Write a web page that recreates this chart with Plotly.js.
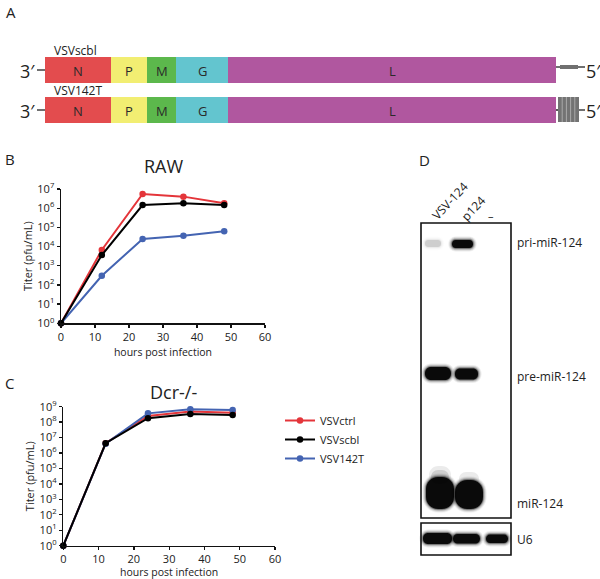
<!DOCTYPE html>
<html>
<head>
<meta charset="utf-8">
<script src="https://cdn.plot.ly/plotly-3.0.1.min.js"></script>
<style>html,body{margin:0;padding:0;background:#fff;}#chart{width:600px;height:579px;}</style>
</head>
<body>
<div id="chart"></div>
<script>
// ---------------- DATA ----------------
const hours = [0, 12, 24, 36, 48];
const seriesNames = ['VSVctrl', 'VSVscbl', 'VSV142T'];
// Panel B: RAW cells (pfu/mL)
const rawCtrl = [1, 6600, 5.5e6, 4.0e6, 1.8e6];
const rawScbl = [1, 3600, 1.45e6, 1.8e6, 1.45e6];
const raw142T = [1, 300, 2.5e4, 3.7e4, 6.2e4];
// Panel C: Dcr-/- cells (pfu/mL)
const dcrCtrl = [1, 4.3e6, 2.5e8, 4.8e8, 4.0e8];
const dcrScbl = [1, 4.3e6, 1.8e8, 3.4e8, 2.9e8];
const dcr142T = [1, 4.0e6, 3.7e8, 6.8e8, 6.1e8];
// Tick labels
const xTicks = [0, 10, 20, 30, 40, 50, 60];
const rawDecades = [0, 1, 2, 3, 4, 5, 6, 7];
const dcrDecades = [0, 1, 2, 3, 4, 5, 6, 7, 8, 9];
// Panel A: genome constructs
const constructs = ['VSVscbl', 'VSV142T'];
const genes = ['N', 'P', 'M', 'G', 'L'];
// Panel D: northern blot
const lanes = ['VSV-124', 'p124', '–'];
const bandLabels = ['pri-miR-124', 'pre-miR-124', 'miR-124', 'U6'];

// ---------------- STYLE / LAYOUT HELPERS ----------------
const W = 600, H = 579;
const X = p => p / W;
const Y = p => 1 - p / H;
const FONT = 'Open Sans, sans-serif';
const TXT = '#222';
const colors = ['#e4353a', '#000000', '#4464b2'];
const geneColors = ['#e34c4e', '#f2ee72', '#5cb84c', '#63c5cf', '#b0579f'];

const shapes = [];
const annotations = [];

function rectPx(x0, y0, x1, y1, fill, line) {
  shapes.push({type: 'rect', xref: 'paper', yref: 'paper', x0: X(x0), x1: X(x1), y0: Y(y1), y1: Y(y0),
    fillcolor: fill, line: line || {width: 0}, layer: 'above'});
}
function linePx(x0, y0, x1, y1, color, width) {
  shapes.push({type: 'line', xref: 'paper', yref: 'paper', x0: X(x0), x1: X(x1), y0: Y(y0), y1: Y(y1),
    line: {color: color, width: width}, layer: 'above'});
}
function pillPx(x0, y0, x1, y1, r, fill) {
  r = Math.min(r, (x1 - x0) / 2, (y1 - y0) / 2);
  const p = (x, y) => X(x).toFixed(5) + ',' + Y(y).toFixed(5);
  const k = 0.5523 * r;
  const path = 'M' + p(x0 + r, y0) + ' L' + p(x1 - r, y0) +
    ' C' + p(x1 - r + k, y0) + ' ' + p(x1, y0 + r - k) + ' ' + p(x1, y0 + r) +
    ' L' + p(x1, y1 - r) +
    ' C' + p(x1, y1 - r + k) + ' ' + p(x1 - r + k, y1) + ' ' + p(x1 - r, y1) +
    ' L' + p(x0 + r, y1) +
    ' C' + p(x0 + r - k, y1) + ' ' + p(x0, y1 - r + k) + ' ' + p(x0, y1 - r) +
    ' L' + p(x0, y0 + r) +
    ' C' + p(x0, y0 + r - k) + ' ' + p(x0 + r - k, y0) + ' ' + p(x0 + r, y0) + ' Z';
  shapes.push({type: 'path', xref: 'paper', yref: 'paper', path: path, fillcolor: fill, line: {width: 0}, layer: 'above'});
}
function band(x0, y0, x1, y1, r, strength) {
  // soft edges: layered translucent pills
  const steps = [[3.5, 0.07], [2.5, 0.12], [1.5, 0.2], [0.7, 0.35], [0, 0.9]];
  steps.forEach(s => pillPx(x0 - s[0], y0 - s[0], x1 + s[0], y1 + s[0], r + s[0],
    'rgba(0,0,0,' + (s[1] * strength).toFixed(3) + ')'));
}
function text(x, y, t, size, opts) {
  annotations.push(Object.assign({xref: 'paper', yref: 'paper', x: X(x), y: Y(y), text: t, showarrow: false,
    xanchor: 'center', yanchor: 'middle', font: {family: FONT, size: size, color: TXT}}, opts || {}));
}

// ---------------- PANEL LABELS ----------------
text(4, 12, 'A', 15, {xanchor: 'left'});
text(3, 159, 'B', 15, {xanchor: 'left'});
text(3, 383, 'C', 15, {xanchor: 'left'});
text(417, 160, 'D', 15, {xanchor: 'left'});

// ---------------- PANEL A ----------------
const segEdges = [45, 111, 147, 176, 228, 556];
const rows = [[57, 83], [97, 123]];
const labelY = [51, 91];
rows.forEach((r, i) => {
  const cy = (r[0] + r[1]) / 2;
  genes.forEach((g, k) => {
    rectPx(segEdges[k], r[0], segEdges[k + 1], r[1], geneColors[k]);
    text((segEdges[k] + segEdges[k + 1]) / 2, cy + 1, g, 13, {font: {family: FONT, size: 13, color: '#2a2a2a'}});
  });
  text(37, cy + 1, '3′', 18, {xanchor: 'right'});
  linePx(37, cy, 45, cy, '#222', 1.3);
  text(584, cy + 1, '5′', 18, {xanchor: 'left'});
  text(52, labelY[i], constructs[i], 12, {xanchor: 'left'});
});
// row 1 : short scrambled target
linePx(556, 67, 560, 67, '#222', 1.3);
rectPx(560, 65, 578, 69, '#707070');
linePx(578, 67, 585, 67, '#222', 1.3);
// row 2 : 4 target repeats
linePx(556, 110, 558, 110, '#222', 1.3);
rectPx(558, 97, 579, 122, '#737373');
[562.2, 566.4, 570.6, 574.8].forEach(sx => linePx(sx, 97, sx, 122, '#b8b8b8', 0.8));
linePx(579, 110, 585, 110, '#222', 1.3);

// ---------------- PANEL B / C titles ----------------
text(163, 166, 'RAW', 18);
text(173, 392, 'Dcr-/-', 18);

// ---------------- PANEL D (blot) ----------------
rectPx(421, 223, 511, 518, 'rgba(0,0,0,0)', {color: '#111', width: 1.6});
rectPx(421, 523, 511, 555, 'rgba(0,0,0,0)', {color: '#111', width: 1.6});
// pri-miR-124
band(425, 240, 441, 247, 3, 0.12);
band(452, 240, 473, 248, 3.5, 1);
// pre-miR-124
band(425, 367, 451, 380, 6, 1);
band(455, 368.5, 478, 379.5, 5, 1);
// miR-124 (with smear above)
pillPx(429, 466, 451, 484, 9, 'rgba(0,0,0,0.08)');
pillPx(431, 470, 449, 484, 8, 'rgba(0,0,0,0.12)');
pillPx(459, 472, 479, 486, 8, 'rgba(0,0,0,0.08)');
band(426, 477, 454, 509, 12, 1);
band(455, 480, 483, 509, 12, 1);
// U6
band(423, 533, 452, 544, 5, 1);
band(453, 534, 480, 543.5, 4.5, 1);
band(486, 534.5, 508, 543, 4, 1);
// lane labels
text(449, 201, lanes[0], 12, {textangle: -47});
text(473, 208, lanes[1], 12, {textangle: -47});
text(491, 215, lanes[2], 11);
// band labels
const bandY = [243, 376, 503, 539];
bandLabels.forEach((b, i) => text(515, bandY[i], b, 12, {xanchor: 'left'}));

// ---------------- TRACES ----------------
function trace(name, y, i, xa, ya, showlegend, rank) {
  return {x: hours, y: y, name: name, type: 'scatter', mode: 'lines+markers', xaxis: xa, yaxis: ya,
    line: {color: colors[i], width: 2}, marker: {color: colors[i], size: 6.5, symbol: 'circle'},
    showlegend: showlegend, legendrank: rank, cliponaxis: false, hoverinfo: 'x+y+name'};
}
const data = [
  trace(seriesNames[0], rawCtrl, 0, 'x', 'y', false, 1),
  trace(seriesNames[2], raw142T, 2, 'x', 'y', false, 3),
  trace(seriesNames[1], rawScbl, 1, 'x', 'y', false, 2),
  trace(seriesNames[0], dcrCtrl, 0, 'x2', 'y2', true, 1),
  trace(seriesNames[2], dcr142T, 2, 'x2', 'y2', true, 3),
  trace(seriesNames[1], dcrScbl, 1, 'x2', 'y2', true, 2)
];

const axisFont = {family: FONT, size: 11, color: TXT};
function xAxis(domain, anchor) {
  return {domain: domain, anchor: anchor, range: [0, 60], tickvals: xTicks, ticktext: xTicks.map(String),
    ticks: 'outside', ticklen: 3, tickwidth: 1.3, tickcolor: '#111', showline: true, linecolor: '#111', linewidth: 1.5,
    showgrid: false, zeroline: false, tickfont: axisFont, fixedrange: true,
    title: {text: 'hours post infection', font: {family: FONT, size: 10.5, color: TXT}, standoff: 5}};
}
function yAxis(domain, anchor, decades) {
  return {domain: domain, anchor: anchor, type: 'log', range: [0, decades[decades.length - 1]],
    tickvals: decades.map(d => Math.pow(10, d)), ticktext: decades.map(d => '10<sup>' + d + '</sup>'),
    ticks: 'outside', ticklen: 3, tickwidth: 1.3, tickcolor: '#111', showline: true, linecolor: '#111', linewidth: 1.5,
    showgrid: false, zeroline: false, tickfont: axisFont, fixedrange: true,
    title: {text: 'Titer (pfu/mL)', font: axisFont, standoff: 2}};
}

const layout = {
  width: W, height: H, margin: {l: 0, r: 0, t: 0, b: 0}, paper_bgcolor: '#fff', plot_bgcolor: 'rgba(0,0,0,0)',
  font: {family: FONT, color: TXT},
  xaxis: xAxis([X(61), X(265)], 'y'),
  yaxis: yAxis([Y(323.3), Y(189)], 'x', rawDecades),
  xaxis2: xAxis([X(63.3), X(275)], 'y2'),
  yaxis2: yAxis([Y(545.7), Y(406.7)], 'x2', dcrDecades),
  legend: {x: X(280), y: Y(406), xanchor: 'left', yanchor: 'top', font: {family: FONT, size: 11, color: TXT},
    bgcolor: 'rgba(0,0,0,0)', itemwidth: 30, tracegroupgap: 0},
  shapes: shapes,
  annotations: annotations,
  showlegend: true
};

Plotly.newPlot('chart', data, layout, {staticPlot: true, displayModeBar: false});
</script>
</body>
</html>
